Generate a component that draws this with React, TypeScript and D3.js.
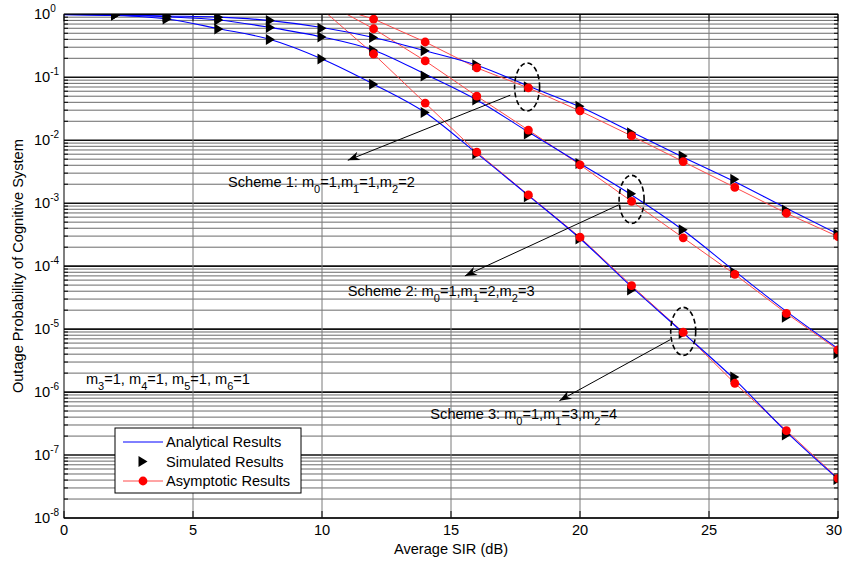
import * as React from 'react';
import * as d3 from 'd3';

// average SIR (dB)
const snr = [0, 2, 4, 6, 8, 10, 12, 14, 16, 18, 20, 22, 24, 26, 28, 30];
const simSnr = [2, 4, 6, 8, 10, 12, 14, 16, 18, 20, 22, 24, 26, 28, 30];
const asySnr = [10, 12, 14, 16, 18, 20, 22, 24, 26, 28, 30];

const analytical1 = [0.995, 0.982, 0.94, 0.902, 0.794, 0.617, 0.427, 0.263, 0.155, 0.0724, 0.0339, 0.0135, 5.37e-3, 2.19e-3, 8.32e-4, 3.24e-4];
const analytical2 = [0.993, 0.973, 0.912, 0.813, 0.617, 0.437, 0.269, 0.112, 0.0437, 0.0135, 4.27e-3, 1.35e-3, 3.72e-4, 8.32e-5, 1.91e-5, 4.9e-6];
const analytical3 = [0.989, 0.955, 0.841, 0.589, 0.398, 0.195, 0.0776, 0.0275, 6.17e-3, 1.32e-3, 2.75e-4, 4.68e-5, 8.71e-6, 1.58e-6, 2.34e-7, 4.17e-8];

const simulated1 = [0.977, 0.933, 0.895, 0.794, 0.603, 0.427, 0.263, 0.158, 0.0708, 0.0347, 0.0132, 5.62e-3, 2.4e-3, 7.76e-4, 3.24e-4];
const simulated2 = [0.977, 0.923, 0.813, 0.617, 0.437, 0.269, 0.105, 0.0437, 0.0126, 4.27e-3, 1.41e-3, 3.8e-4, 7.94e-5, 1.55e-5, 4.07e-6];
const simulated3 = [0.977, 0.841, 0.585, 0.398, 0.195, 0.0776, 0.0275, 6.03e-3, 1.26e-3, 2.69e-4, 4.17e-5, 8.51e-6, 1.74e-6, 2.09e-7, 4.07e-8];

const asymptotic1 = [1.5, 0.841, 0.363, 0.141, 0.0676, 0.0292, 0.0117, 4.57e-3, 1.78e-3, 6.92e-4, 2.95e-4];
const asymptotic2 = [1.64, 0.589, 0.182, 0.0501, 0.0145, 4.07e-3, 1.07e-3, 2.82e-4, 7.41e-5, 1.78e-5, 4.68e-6];
const asymptotic3 = [1.2, 0.234, 0.0389, 6.46e-3, 1.35e-3, 2.88e-4, 4.9e-5, 8.91e-6, 1.38e-6, 2.45e-7, 4.27e-8];

const xTicks = [0, 5, 10, 15, 20, 25, 30];
const yExponents = [0, -1, -2, -3, -4, -5, -6, -7, -8];
const legendLabels = ['Analytical Results', 'Simulated Results', 'Asymptotic Results'];

// [text, subscript] pieces of the annotations
const scheme1Label: [string, string][] = [['Scheme 1: m', '0'], ['=1,m', '1'], ['=1,m', '2'], ['=2', '']];
const scheme2Label: [string, string][] = [['Scheme 2: m', '0'], ['=1,m', '1'], ['=2,m', '2'], ['=3', '']];
const scheme3Label: [string, string][] = [['Scheme 3: m', '0'], ['=1,m', '1'], ['=3,m', '2'], ['=4', '']];
const otherLabel: [string, string][] = [['m', '3'], ['=1, m', '4'], ['=1, m', '5'], ['=1, m', '6'], ['=1', '']];

// annotation anchors in data units: [sir, probability]
const labelPos: [number, number][] = [[6.36, 2.2e-3], [11.0, 4.0e-5], [14.2, 4.5e-7], [0.85, 1.6e-6]];
const ellipsePos: [number, number][] = [[17.95, 0.07], [22.0, 1.15e-3], [24.0, 9.2e-6]];
const arrowFrom: [number, number][] = [[17.3, 0.052], [21.5, 9.4e-4], [23.5, 6.8e-6]];
const arrowTo: [number, number][] = [[11.0, 4.8e-3], [15.54, 7.0e-5], [19.2, 7.3e-7]];

const W = 843;
const H = 563;
const margin = { left: 64, right: 5, top: 14.3, bottom: 45 };
const font = 'Arial, "Liberation Sans", sans-serif';
const fs = 14.6;

const Sub = ({ parts, x, y }: { parts: [string, string][]; x: number; y: number }) => {
  const spans: React.ReactNode[] = [];
  let down = false;
  parts.forEach(([t, s], i) => {
    spans.push(<tspan key={'t' + i} dy={down ? -6 : 0}>{t}</tspan>);
    down = false;
    if (s) {
      spans.push(<tspan key={'s' + i} fontSize={11} dy={6}>{s}</tspan>);
      down = true;
    }
  });
  return (
    <text x={x} y={y + 5} fontSize={fs} fontFamily={font} fill="#000">{spans}</text>
  );
};

const App = () => {
  const x = d3.scaleLinear().domain([0, 30]).range([margin.left, W - margin.right]);
  const y = d3.scaleLog().domain([1e-8, 1]).range([H - margin.bottom, margin.top]);
  const [x0, x1] = x.range();
  const [y0, y1] = y.range();

  const smooth = d3.line<[number, number]>().x(d => x(d[0])).y(d => y(d[1])).curve(d3.curveMonotoneX);
  const straight = d3.line<[number, number]>().x(d => x(d[0])).y(d => y(d[1]));

  const analytical = [analytical1, analytical2, analytical3];
  const simulated = [simulated1, simulated2, simulated3];
  const asymptotic = [asymptotic1, asymptotic2, asymptotic3];

  const minor: number[] = [];
  for (let e = -8; e < 0; e++) for (let m = 2; m <= 9; m++) minor.push(m * Math.pow(10, e));

  const tri = (cx: number, cy: number) => `M${cx - 4.5},${cy - 5.5}L${cx + 4.5},${cy}L${cx - 4.5},${cy + 5.5}Z`;

  const arrowHead = (from: [number, number], to: [number, number]) => {
    const fx = x(from[0]), fy = y(from[1]), tx = x(to[0]), ty = y(to[1]);
    const a = Math.atan2(ty - fy, tx - fx);
    const len = 12, wid = 4.5;
    const bx = tx - len * Math.cos(a), by = ty - len * Math.sin(a);
    const nx = -Math.sin(a), ny = Math.cos(a);
    const mx = tx - 0.7 * len * Math.cos(a), my = ty - 0.7 * len * Math.sin(a);
    return `M${tx},${ty}L${bx + nx * wid},${by + ny * wid}L${mx},${my}L${bx - nx * wid},${by - ny * wid}Z`;
  };

  return (
    <svg width={W} height={H} style={{ position: 'absolute', left: 0, top: 0, background: '#fff' }}>
      <defs>
        <clipPath id="plot">
          <rect x={x0} y={y1} width={x1 - x0} height={y0 - y1} />
        </clipPath>
      </defs>

      {/* grid */}
      <g>
        {minor.map((v, i) => (
          <line key={'mn' + i} x1={x0} x2={x1} y1={y(v)} y2={y(v)} stroke="#6a6a6a" strokeWidth={1} />
        ))}
        {yExponents.map(e => (
          <line key={'mj' + e} x1={x0} x2={x1} y1={y(Math.pow(10, e))} y2={y(Math.pow(10, e))} stroke="#111" strokeWidth={1.6} />
        ))}
        {xTicks.slice(1, -1).map(t => (
          <line key={'vx' + t} x1={x(t)} x2={x(t)} y1={y1} y2={y0} stroke="#7a7a7a" strokeWidth={1} />
        ))}
      </g>

      {/* tick marks */}
      <g stroke="#000" strokeWidth={1}>
        {xTicks.map(t => (
          <React.Fragment key={'xt' + t}>
            <line x1={x(t)} x2={x(t)} y1={y0} y2={y0 - 7} />
            <line x1={x(t)} x2={x(t)} y1={y1} y2={y1 + 7} />
          </React.Fragment>
        ))}
        {minor.map((v, i) => (
          <React.Fragment key={'yt' + i}>
            <line x1={x0} x2={x0 + 4} y1={y(v)} y2={y(v)} />
            <line x1={x1} x2={x1 - 4} y1={y(v)} y2={y(v)} />
          </React.Fragment>
        ))}
      </g>

      {/* data */}
      <g clipPath="url(#plot)">
        {asymptotic.map((s, k) => (
          <path key={'al' + k} d={straight(asySnr.map((v, i) => [v, s[i]] as [number, number])) || ''} fill="none" stroke="#ff4a4a" strokeWidth={1} />
        ))}
        {analytical.map((s, k) => (
          <path key={'bl' + k} d={smooth(snr.map((v, i) => [v, s[i]] as [number, number])) || ''} fill="none" stroke="#0000ff" strokeWidth={1.1} />
        ))}
        {simulated.map((s, k) => (
          <g key={'sm' + k}>
            {simSnr.map((v, i) => (
              <path key={i} d={tri(x(v), y(s[i]))} fill="#000" />
            ))}
          </g>
        ))}
        {asymptotic.map((s, k) => (
          <g key={'ad' + k}>
            {asySnr.map((v, i) => (s[i] <= 1 ? <circle key={i} cx={x(v)} cy={y(s[i])} r={4.4} fill="#ff0000" /> : null))}
          </g>
        ))}
      </g>

      {/* axes box */}
      <rect x={x0} y={y1} width={x1 - x0} height={y0 - y1} fill="none" stroke="#000" strokeWidth={1} />

      {/* tick labels */}
      <g fontFamily={font} fill="#000">
        {xTicks.map((t, i) => (
          <text key={'xl' + t} x={i === xTicks.length - 1 ? W - 1 : x(t)} y={y0 + 17} fontSize={fs}
            textAnchor={i === xTicks.length - 1 ? 'end' : 'middle'}>{t}</text>
        ))}
        {yExponents.map(e => (
          <text key={'yl' + e} x={x0 - 30} y={y(Math.pow(10, e)) + 5} fontSize={fs}>
            10<tspan fontSize={10} dy={-7}>{e}</tspan>
          </text>
        ))}
      </g>

      {/* axis titles */}
      <text x={(x0 + x1) / 2} y={554} fontSize={fs} fontFamily={font} textAnchor="middle">Average SIR (dB)</text>
      <text transform={`translate(23,${(y0 + y1) / 2}) rotate(-90)`} fontSize={fs} fontFamily={font} textAnchor="middle">
        Outage Probability of Cognitive System
      </text>

      {/* annotations */}
      {ellipsePos.map((p, i) => (
        <ellipse key={'el' + i} cx={x(p[0])} cy={y(p[1])} rx={12.5} ry={24} fill="none" stroke="#000" strokeWidth={1.6} strokeDasharray="5,3" />
      ))}
      {arrowFrom.map((f, i) => (
        <g key={'ar' + i}>
          <line x1={x(f[0])} y1={y(f[1])} x2={x(arrowTo[i][0])} y2={y(arrowTo[i][1])} stroke="#000" strokeWidth={1} />
          <path d={arrowHead(f, arrowTo[i])} fill="#000" />
        </g>
      ))}
      {[scheme1Label, scheme2Label, scheme3Label, otherLabel].map((parts, i) => (
        <Sub key={'lb' + i} parts={parts} x={x(labelPos[i][0])} y={y(labelPos[i][1])} />
      ))}

      {/* legend */}
      <g fontFamily={font} fontSize={fs}>
        <rect x={115} y={428} width={186} height={65} fill="#fff" stroke="#000" strokeWidth={1} />
        {legendLabels.map((lab, i) => {
          const ly = 442 + i * 19.5;
          return (
            <g key={lab}>
              {i === 0 && <line x1={123} x2={163} y1={ly} y2={ly} stroke="#0000ff" strokeWidth={1} />}
              {i === 1 && <path d={tri(143, ly)} fill="#000" />}
              {i === 2 && (
                <>
                  <line x1={123} x2={163} y1={ly} y2={ly} stroke="#ff4a4a" strokeWidth={1} />
                  <circle cx={143} cy={ly} r={4.4} fill="#ff0000" />
                </>
              )}
              <text x={166} y={ly + 5}>{lab}</text>
            </g>
          );
        })}
      </g>
    </svg>
  );
};

export default App;
